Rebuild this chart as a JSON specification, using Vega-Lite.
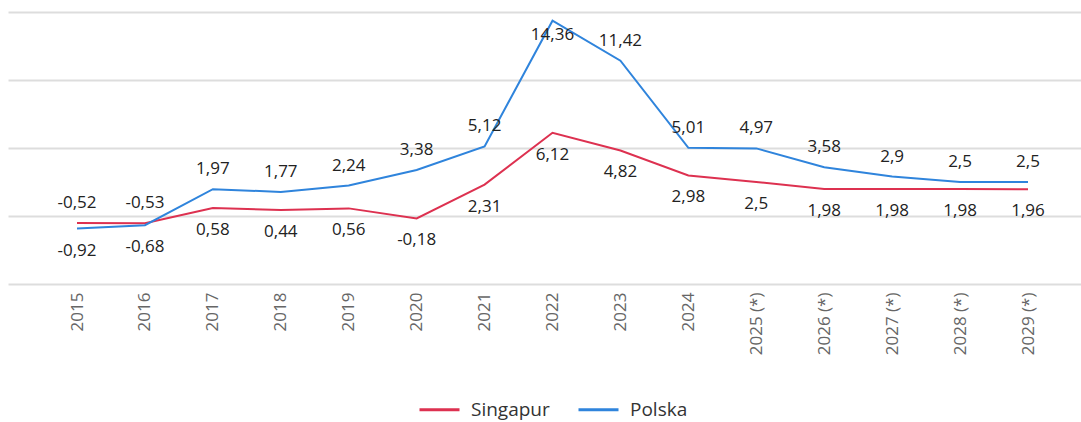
{
  "$schema": "https://vega.github.io/schema/vega-lite/v6.json",
  "width": 1073,
  "height": 272,
  "autosize": {"type": "none"},
  "padding": {"left": 8, "top": 12, "right": 0, "bottom": 138},
  "background": "white",
  "config": {
    "view": {"stroke": null},
    "font": "Open Sans"
  },
  "data": {
    "values": [
      {"year": "2015", "country": "Singapur", "value": -0.52},
      {"year": "2016", "country": "Singapur", "value": -0.53},
      {"year": "2017", "country": "Singapur", "value": 0.58},
      {"year": "2018", "country": "Singapur", "value": 0.44},
      {"year": "2019", "country": "Singapur", "value": 0.56},
      {"year": "2020", "country": "Singapur", "value": -0.18},
      {"year": "2021", "country": "Singapur", "value": 2.31},
      {"year": "2022", "country": "Singapur", "value": 6.12},
      {"year": "2023", "country": "Singapur", "value": 4.82},
      {"year": "2024", "country": "Singapur", "value": 2.98},
      {"year": "2025 (*)", "country": "Singapur", "value": 2.5},
      {"year": "2026 (*)", "country": "Singapur", "value": 1.98},
      {"year": "2027 (*)", "country": "Singapur", "value": 1.98},
      {"year": "2028 (*)", "country": "Singapur", "value": 1.98},
      {"year": "2029 (*)", "country": "Singapur", "value": 1.96},
      {"year": "2015", "country": "Polska", "value": -0.92},
      {"year": "2016", "country": "Polska", "value": -0.68},
      {"year": "2017", "country": "Polska", "value": 1.97},
      {"year": "2018", "country": "Polska", "value": 1.77},
      {"year": "2019", "country": "Polska", "value": 2.24},
      {"year": "2020", "country": "Polska", "value": 3.38},
      {"year": "2021", "country": "Polska", "value": 5.12},
      {"year": "2022", "country": "Polska", "value": 14.36},
      {"year": "2023", "country": "Polska", "value": 11.42},
      {"year": "2024", "country": "Polska", "value": 5.01},
      {"year": "2025 (*)", "country": "Polska", "value": 4.97},
      {"year": "2026 (*)", "country": "Polska", "value": 3.58},
      {"year": "2027 (*)", "country": "Polska", "value": 2.9},
      {"year": "2028 (*)", "country": "Polska", "value": 2.5},
      {"year": "2029 (*)", "country": "Polska", "value": 2.5}
    ]
  },
  "transform": [
    {"calculate": "replace(toString(datum.value), '.', ',')", "as": "label"},
    {"joinaggregate": [{"op": "max", "field": "value", "as": "maxv"}], "groupby": ["year"]}
  ],
  "encoding": {
    "x": {
      "field": "year",
      "type": "ordinal",
      "sort": null,
      "scale": {"type": "point", "padding": 0.898, "align": 0.5656},
      "axis": {
        "title": null,
        "labelAngle": -90,
        "labelAlign": "right",
        "labelBaseline": "middle",
        "labelPadding": 8,
        "labelFontSize": 17,
        "labelColor": "#666666",
        "ticks": false,
        "domain": false,
        "grid": false
      }
    },
    "y": {
      "field": "value",
      "type": "quantitative",
      "scale": {"domain": [-5, 15], "nice": false, "zero": false},
      "axis": {
        "title": null,
        "values": [-5, 0, 5, 10, 15],
        "labels": false,
        "ticks": false,
        "domain": false,
        "grid": true,
        "gridColor": "#dddddd",
        "gridWidth": 2
      }
    }
  },
  "layer": [
    {
      "mark": {"type": "line", "strokeWidth": 2},
      "encoding": {
        "color": {
          "field": "country",
          "type": "nominal",
          "sort": ["Singapur", "Polska"],
          "scale": {"domain": ["Singapur", "Polska"], "range": ["#dd3150", "#2f84dc"]},
          "legend": {
            "title": null,
            "orient": "none",
            "legendX": 410,
            "legendY": 376,
            "direction": "horizontal",
            "symbolType": "stroke",
            "symbolSize": 1600,
            "symbolStrokeWidth": 3,
            "labelFontSize": 19,
            "labelColor": "#333333",
            "labelOffset": 10,
            "columnPadding": 22
          }
        }
      }
    },
    {
      "transform": [{"filter": "datum.value >= datum.maxv && datum.value < 14"}],
      "mark": {"type": "text", "fontSize": 17, "color": "#222222", "baseline": "middle", "dy": -20},
      "encoding": {"text": {"field": "label"}}
    },
    {
      "transform": [{"filter": "datum.value >= 14"}],
      "mark": {"type": "text", "fontSize": 17, "color": "#222222", "baseline": "middle", "dy": 14},
      "encoding": {"text": {"field": "label"}}
    },
    {
      "transform": [{"filter": "datum.value < datum.maxv"}],
      "mark": {"type": "text", "fontSize": 17, "color": "#222222", "baseline": "middle", "dy": 22},
      "encoding": {"text": {"field": "label"}}
    }
  ]
}
